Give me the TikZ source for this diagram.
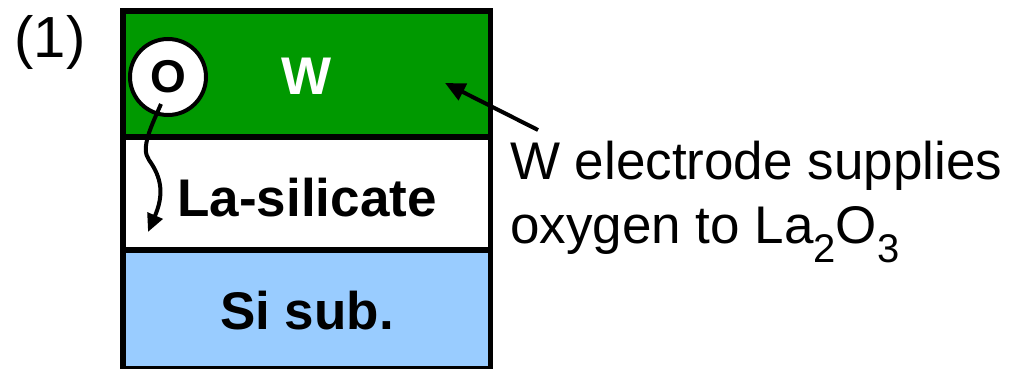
\documentclass[tikz,border=0pt]{standalone}
\usepackage{fontspec}
\setmainfont{Liberation Sans}
\usetikzlibrary{arrows.meta}
\definecolor{wgreen}{RGB}{0,153,0}
\definecolor{siblue}{RGB}{153,204,255}
\newcommand{\subdig}[1]{\raisebox{-19pt}{\fontsize{40}{40}\selectfont #1}}
\begin{document}
\begin{tikzpicture}[x=1pt,y=-1pt,
  layer/.style={draw=black,line width=5.5pt},
  boldlbl/.style={font=\fontsize{53}{53}\selectfont\bfseries,inner sep=0pt,anchor=base},
  plainlbl/.style={font=\fontsize{53}{64}\selectfont,inner sep=0pt,anchor=base west},
  arr/.style={line width=4pt,-{Triangle[length=20pt,width=18pt]}}
]
\useasboundingbox (0,0) rectangle (1009,369);
\begin{scope}
\clip (0,0) rectangle (1009,369);
\draw[layer,fill=wgreen] (123,11) rectangle (490.5,137);
\draw[layer,fill=white] (123,137) rectangle (490.5,250);
\draw[layer,fill=siblue] (123,250) rectangle (490.5,368.5);
\end{scope}
\node[boldlbl,text=white] (W) at (307,94) {W};
\node[boldlbl] (La) at (307,216) {La-silicate};
\node[boldlbl] (Si) at (307,329) {Si sub.};
\node[draw=black,line width=4pt,fill=white,circle,minimum size=76pt,inner sep=0pt,
  font=\fontsize{46}{46}\selectfont\bfseries] (O) at (168,77) {O};
\coordinate (ostart) at (161,104);
\coordinate (otip) at (148,232);
\draw[line width=4pt,-{Triangle[length=18pt,width=16pt]}]
  (ostart) .. controls (152,125) and (140,148) .. (149,160)
  .. controls (162,178) and (164,195) .. (otip);
\node[plainlbl] (t1) at (510,179) {W electrode supplies};
\node[plainlbl] (t2) at (510,243) {oxygen to La\subdig{2}O\subdig{3}};
\coordinate (tail) at (538,130);
\coordinate (tip) at (445,83);
\draw[arr] (tail) -- (tip);
\node[font=\fontsize{58}{58}\selectfont,inner sep=0pt,anchor=base] (num) at (50,58) {(1)};
\end{tikzpicture}
\end{document}
